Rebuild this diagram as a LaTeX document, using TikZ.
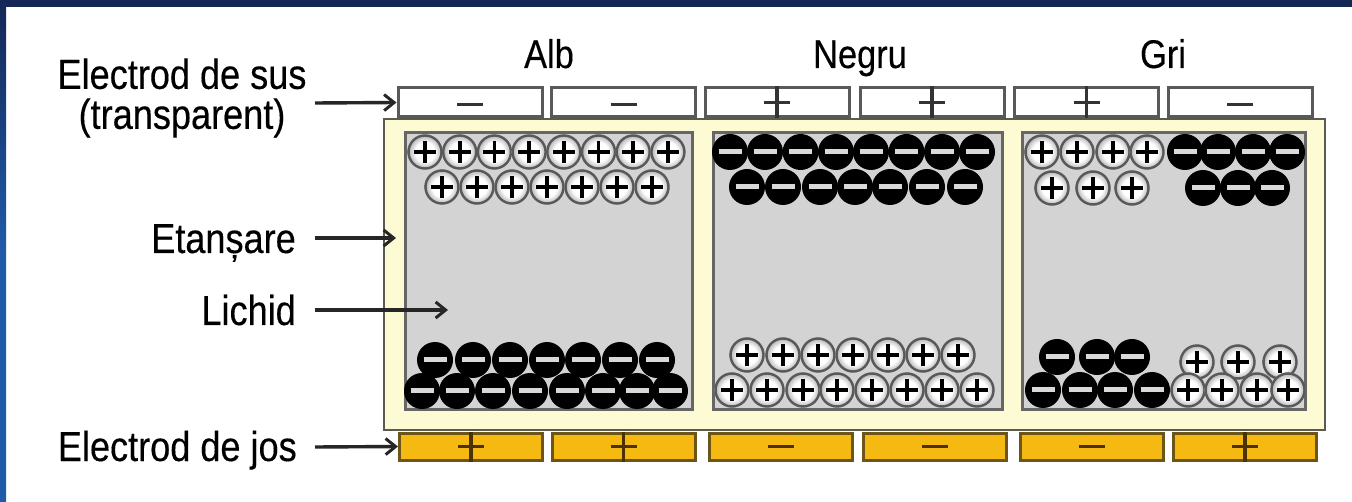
\documentclass[tikz,border=0pt]{standalone}
\usepackage{fontspec}
\setmainfont{Liberation Sans}[FakeStretch=0.86,FakeBold=0.3]
\usetikzlibrary{arrows.meta}
\definecolor{navy}{HTML}{142656}
\definecolor{blueL}{HTML}{1F5BA8}
\definecolor{cream}{HTML}{FDFBD3}
\definecolor{cellgray}{HTML}{D3D3D3}
\definecolor{gold}{HTML}{F6B912}
\definecolor{goldedge}{HTML}{6B5518}
\definecolor{signbrown}{HTML}{4A3300}
\definecolor{edge}{HTML}{5A5A50}
\pgfdeclareradialshading{ball}{\pgfpoint{0bp}{0bp}}{color(0bp)=(white); color(14bp)=(white); color(23bp)=(black!28); color(25bp)=(black!35); color(50bp)=(black!35)}
\begin{document}
\begin{tikzpicture}[x=1pt,y=-1pt,
  lbl/.style={font=\fontsize{42}{40}\selectfont, inner sep=0pt, text=black},
  ttl/.style={font=\fontsize{40}{40}\selectfont, inner sep=0pt, text=black},
  arr/.style={draw=black!85, line width=3.4pt, -{Straight Barb[length=10pt,width=16pt,line width=3pt]}},
  topel/.style={draw=black!65, line width=3pt, fill=white, minimum width=144pt, minimum height=29pt, inner sep=0pt},
  botel/.style={draw=goldedge, line width=3pt, fill=gold, minimum width=143pt, minimum height=27pt, inner sep=0pt},
  cellbox/.style={draw=black!60, line width=3pt, fill=cellgray},
  topsign/.style={draw=black!80, line width=3.4pt},
  botsign/.style={draw=signbrown, line width=3.6pt},
  pos/.pic={\shade[shading=ball] (0,0) circle (17.5pt);
            \draw[black!65, line width=2.4pt] (0,0) circle (16.5pt);
            \draw[black, line width=3.8pt] (-11,0)--(11,0) (0,-11)--(0,11);},
  neg/.pic={\fill[black] (0,0) circle (18pt);
            \draw[black!15, line width=5pt] (-11.5,0)--(11.5,0);},
]
\useasboundingbox (0,0) rectangle (1352,502);
\fill[white] (0,0) rectangle (1352,502);
\fill[navy] (0,0) rectangle (1352,7);
\shade[top color=navy, bottom color=blueL, middle color=blueL] (0,0) rectangle (6,502);

% frame and cells
\draw[draw=edge, line width=2.6pt, fill=cream] (384,119) rectangle (1325,430);
\draw[cellbox] (405,133) rectangle (692,410);
\draw[cellbox] (713,133) rectangle (1002,410);
\draw[cellbox] (1022,133) rectangle (1305,410);

% cell 1 (Alb)
\foreach \x in {425,459.7,494.4,529.1,563.8,598.5,633.2,667.9} \pic at (\x,152) {pos};
\foreach \x in {442,477,512,547,582,617,652} \pic at (\x,187) {pos};
\foreach \x in {435,473,510,547,583,620,657} \pic at (\x,360) {neg};
\foreach \x in {422,457,493,530,567,603,637,670} \pic at (\x,391) {neg};

% cell 2 (Negru)
\foreach \x in {730,765,800.6,836,871,906.5,942,977} \pic at (\x,152) {neg};
\foreach \x in {747,783,820,855,890,927,965} \pic at (\x,187) {neg};
\foreach \x in {747,783,818,853,888,923,958} \pic at (\x,355) {pos};
\foreach \x in {732,767,803,837,872,907,942,977} \pic at (\x,390) {pos};

% cell 3 (Gri)
\foreach \x in {1042,1077,1113,1147} \pic at (\x,152) {pos};
\foreach \x in {1185,1218,1253,1287} \pic at (\x,152) {neg};
\foreach \x in {1052,1093,1132} \pic at (\x,188) {pos};
\foreach \x in {1203,1238,1272} \pic at (\x,188) {neg};
\foreach \x in {1057,1097,1132} \pic at (\x,357) {neg};
\foreach \x in {1043,1080,1115,1152} \pic at (\x,390) {neg};
\foreach \x in {1197,1238,1280} \pic at (\x,362) {pos};
\foreach \x in {1188,1222,1257,1288} \pic at (\x,390) {pos};

% top electrodes
\node[topel] (t1) at (470,102.5) {};
\node[topel] (t2) at (623.5,102.5) {};
\node[topel] (t3) at (777,102.5) {};
\node[topel] (t4) at (932,102.5) {};
\node[topel] (t5) at (1086.5,102.5) {};
\node[topel] (t6) at (1240,102.5) {};
\foreach \n in {t1,t2,t6} \draw[topsign] ([xshift=-13pt,yshift=-2pt]\n.center) -- ([xshift=13pt,yshift=-2pt]\n.center);
\foreach \n in {t3,t4,t5} \draw[topsign] ([xshift=-13pt]\n.center) -- ([xshift=13pt]\n.center) (\n.north) -- (\n.south);

% bottom electrodes
\node[botel] (b1) at (471,446.5) {};
\node[botel] (b2) at (623.5,446.5) {};
\node[botel] (b3) at (780.5,446.5) {};
\node[botel] (b4) at (934.5,446.5) {};
\node[botel] (b5) at (1091.5,446.5) {};
\node[botel] (b6) at (1245,446.5) {};
\foreach \n in {b3,b4,b5} \draw[botsign] ([xshift=-13pt]\n.center) -- ([xshift=13pt]\n.center);
\foreach \n in {b1,b2,b6} \draw[botsign] ([xshift=-13pt]\n.center) -- ([xshift=13pt]\n.center) (\n.north) -- (\n.south);

% titles
\node[ttl, anchor=base] (talb) at (549,68) {Alb};
\node[ttl, anchor=base] (tneg) at (860,68) {Negru};
\node[ttl, anchor=base] (tgri) at (1163,68) {Gri};

% labels
\node[lbl, align=center] (lsus) at (182,98) {Electrod de sus\\(transparent)};
\node[lbl, anchor=base east] (letan) at (296,253) {Etanșare};
\node[lbl, anchor=base east] (llich) at (296,325) {Lichid};
\node[lbl, anchor=base east] (ljos) at (297,461) {Electrod de jos};

% arrows
\coordinate (s1) at (315,103);
\coordinate (s2) at (315,238);
\coordinate (e2) at (396,238);
\coordinate (s3) at (315,310);
\coordinate (e3) at (448,310);
\coordinate (s4) at (315,447);
\draw[arr] (s1) -- (t1.west);
\draw[arr] (s2) -- (e2);
\draw[arr] (s3) -- (e3);
\draw[arr] (s4) -- (b1.west);
\end{tikzpicture}
\end{document}
